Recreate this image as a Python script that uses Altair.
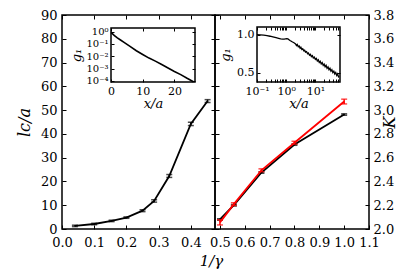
import altair as alt
import pandas as pd

FONT = "DejaVu Serif"
H = 214
W1 = 153
W2 = 154

# ---------------- data ----------------
inv_gamma_left = [0.04, 0.1, 0.154, 0.2, 0.25, 0.286, 0.333, 0.4, 0.452]
lc = [1.3, 2.1, 3.4, 4.8, 7.7, 11.8, 22.3, 44.2, 53.8]
lc_err = [0.3, 0.3, 0.3, 0.3, 0.4, 0.5, 0.6, 0.7, 0.6]

inv_gamma_right = [0.5, 0.556, 0.667, 0.8, 1.0]
K_black = [2.08, 2.20, 2.475, 2.71, 2.963]
K_black_err = [0.006, 0.006, 0.006, 0.006, 0.006]
K_red = [2.056, 2.209, 2.494, 2.726, 3.072]
K_red_err = [0.022, 0.012, 0.012, 0.012, 0.02]

inset1_x = [0, 1, 2, 3, 4, 6, 8, 10, 12, 14, 16, 18, 20, 22, 24, 26]
inset1_g = [0.89, 0.5, 0.316, 0.21, 0.14, 0.063, 0.028, 0.014, 0.0071, 0.004,
            0.0021, 0.0011, 0.00058, 0.00032, 0.00016, 0.000085]

inset2_x = [0.1, 0.13, 0.17, 0.22, 0.28, 0.35, 0.45, 0.55, 0.65, 0.75, 0.85, 0.95,
            1.05, 1.15, 1.25, 1.35, 1.5, 1.65, 1.8, 1.95, 2.1, 2.25, 2.4, 2.6, 2.8,
            3.0, 3.2, 3.45, 3.7, 4.0, 4.3, 4.6, 5.0, 5.4, 5.8, 6.3, 6.8, 7.3, 7.9,
            8.5, 9.2, 10, 10.8, 11.7, 12.6, 13.6, 14.7, 15.9, 17.2, 18.6, 20, 21.6,
            23.3, 25.2, 27.2, 29.4, 31.7, 34.2, 36.9, 39.8, 43, 46.4, 50, 54, 58, 62, 65]
inset2_g = [1.000, 0.998, 0.993, 0.987, 0.979, 0.970, 0.960, 0.951, 0.944, 0.940, 0.941, 0.944,
            0.946, 0.944, 0.934, 0.924, 0.914, 0.904, 0.897, 0.888, 0.879, 0.858, 0.872, 0.842, 0.850,
            0.822, 0.836, 0.806, 0.815, 0.788, 0.797, 0.771, 0.778, 0.750, 0.760, 0.731, 0.742, 0.712, 0.724,
            0.694, 0.706, 0.676, 0.688, 0.656, 0.670, 0.636, 0.652, 0.616, 0.634, 0.598, 0.614, 0.578,
            0.598, 0.560, 0.578, 0.540, 0.560, 0.522, 0.540, 0.503, 0.522, 0.484, 0.504, 0.466, 0.486, 0.450, 0.462]

x1_ticks = [0.0, 0.1, 0.2, 0.3, 0.4]
y1_ticks = [0, 10, 20, 30, 40, 50, 60, 70, 80, 90]
x2_ticks = [0.5, 0.6, 0.7, 0.8, 0.9, 1.0, 1.1]
y2_ticks = [2.0, 2.2, 2.4, 2.6, 2.8, 3.0, 3.2, 3.4, 3.6, 3.8]
inset1_xticks = [0, 10, 20]
inset1_yticks = [0.0001, 0.001, 0.01, 0.1, 1]
inset2_xticks = [0.1, 1, 10]
inset2_xminor = [0.1, 0.2, 0.3, 0.4, 0.5, 0.6, 0.7, 0.8, 0.9, 1, 2, 3, 4, 5, 6, 7, 8, 9,
                 10, 20, 30, 40, 50, 60]
inset2_yticks = [0.5, 1.0]

# inset placement (pixels inside each panel)
I1 = dict(x0=49, x1=133, y0=67, y1=13)
I2 = dict(x0=42, x1=125, y0=67, y1=12)

LBL = dict(labelFont=FONT, labelColor="black", labelFlush=False, labelOverlap=False)
TTL = dict(titleFont=FONT, titleColor="black", titleFontWeight="normal", titleFontStyle="italic")
ISZ = 10


def grid_dash(length, t):
    return [t, length - 2 * t, t, 4 * length]


def hidden_grid_axis(orient, values, length, t=3, offset=0):
    return alt.Axis(orient=orient, values=values, labels=False, ticks=False, domain=False,
                    offset=offset, title=None, grid=True, gridColor="black", gridOpacity=1,
                    gridWidth=1, gridDash=grid_dash(length, t), zindex=1)


IND = dict(x="independent", y="independent")

# ---------------- left panel ----------------
df_l = pd.DataFrame({"x": inv_gamma_left, "y": lc, "err": lc_err})
xs1 = alt.Scale(domain=[0, 0.475], nice=False, zero=False)
ys1 = alt.Scale(domain=[0, 90], nice=False, zero=False)

ax_x1 = alt.Axis(orient="bottom", values=x1_ticks, format=".1f", ticks=False, domain=False,
                 labelFontSize=13, labelPadding=7, grid=True, gridColor="black", gridOpacity=1,
                 gridWidth=1, gridDash=grid_dash(H, 4), title="1/γ", titleFontSize=15,
                 titleX=W1 - 4, titleY=24, titleAlign="center", titleBaseline="top", **LBL, **TTL)
ax_y1 = alt.Axis(orient="left", values=y1_ticks, ticks=False, domain=False, labelFontSize=13,
                 labelPadding=5, grid=True, gridColor="black", gridOpacity=1, gridWidth=1,
                 gridDash=grid_dash(W1, 4), title="lc/a", titleFontSize=16, titlePadding=8,
                 **LBL, **TTL)

base_l = alt.Chart(df_l).transform_calculate(lo="datum.y - datum.err", hi="datum.y + datum.err")
line_l = base_l.mark_line(color="black", strokeWidth=1.8).encode(
    x=alt.X("x:Q", scale=xs1, axis=ax_x1), y=alt.Y("y:Q", scale=ys1, axis=ax_y1))
rule_l = base_l.mark_rule(color="black", strokeWidth=1.5).encode(
    x=alt.X("x:Q", scale=xs1, axis=None), y=alt.Y("lo:Q", scale=ys1, axis=None), y2="hi:Q")
caplo_l = base_l.mark_tick(orient="horizontal", color="black", size=6, thickness=1.5).encode(
    x=alt.X("x:Q", scale=xs1, axis=None), y=alt.Y("lo:Q", scale=ys1, axis=None))
caphi_l = base_l.mark_tick(orient="horizontal", color="black", size=6, thickness=1.5).encode(
    x=alt.X("x:Q", scale=xs1, axis=None), y=alt.Y("hi:Q", scale=ys1, axis=None))
main_l = alt.layer(line_l, rule_l, caplo_l, caphi_l).resolve_axis(**IND)

# inset 1
xsi1 = alt.Scale(domain=[0, 26.5], range=[I1["x0"], I1["x1"]], nice=False, zero=False)
ysi1 = alt.Scale(type="log", domain=[0.00008, 2], range=[I1["y0"], I1["y1"]], nice=False)
frame1 = pd.DataFrame({"x": [0], "x2": [26.5], "y": [0.00008], "y2": [2]})
df_i1 = pd.DataFrame({"x": inset1_x, "g": inset1_g})

ax_i1x = alt.Axis(orient="bottom", values=inset1_xticks, ticks=False, domain=False, grid=False,
                  offset=I1["y0"] - H, labelFontSize=ISZ + 1, labelPadding=3, title="x/a",
                  titleFontSize=13, titlePadding=1, **LBL, **TTL)
ax_i1y = alt.Axis(orient="left", values=inset1_yticks, ticks=False, domain=False,
                  offset=-I1["x0"], labelFontSize=ISZ, labelPadding=3,
                  labelExpr="datum.value > 0.5 ? '10⁰' : datum.value > 0.05 ? '10⁻¹' : datum.value > 0.005 ? '10⁻²' : datum.value > 0.0005 ? '10⁻³' : '10⁻⁴'",
                  grid=True, gridColor="black", gridOpacity=1, gridWidth=1,
                  gridDash=grid_dash(I1["x1"] - I1["x0"], 3), zindex=1,
                  title="g₁", titleFontSize=13, titlePadding=2, **LBL, **TTL)

rect1 = alt.Chart(frame1).mark_rect(fill="white", fillOpacity=0, stroke="black", strokeWidth=1.5).encode(
    x=alt.X("x:Q", scale=xsi1, axis=ax_i1x), x2="x2:Q",
    y=alt.Y("y:Q", scale=ysi1, axis=ax_i1y), y2="y2:Q")
curve1 = alt.Chart(df_i1).mark_line(color="black", strokeWidth=1.6).encode(
    x=alt.X("x:Q", scale=xsi1,
            axis=hidden_grid_axis("top", inset1_xticks, I1["y0"] - I1["y1"], 3, -I1["y1"])),
    y=alt.Y("g:Q", scale=ysi1, axis=None))
inset_l = alt.layer(rect1, curve1).resolve_axis(**IND)

left = alt.layer(main_l, inset_l).resolve_scale(**IND).resolve_axis(**IND).properties(
    width=W1, height=H)

# ---------------- right panel ----------------
df_r = pd.DataFrame({
    "x": inv_gamma_right + inv_gamma_right,
    "y": K_black + K_red,
    "err": K_black_err + K_red_err,
    "s": ["black"] * 5 + ["red"] * 5,
})
xs2 = alt.Scale(domain=[0.48, 1.1], nice=False, zero=False)
ys2 = alt.Scale(domain=[2.0, 3.8], nice=False, zero=False)

ax_x2 = alt.Axis(orient="bottom", values=x2_ticks, format=".1f", ticks=False, domain=False,
                 labelFontSize=13, labelPadding=7, grid=True, gridColor="black", gridOpacity=1,
                 gridWidth=1, gridDash=grid_dash(H, 4), title=None, **LBL)
ax_y2 = alt.Axis(orient="right", values=y2_ticks, format=".1f", ticks=False, domain=False,
                 labelFontSize=13, labelPadding=4, grid=True, gridColor="black", gridOpacity=1,
                 gridWidth=1, gridDash=grid_dash(W2, 4), title="K", titleFontSize=16,
                 titleAngle=270, titlePadding=4, **LBL, **TTL)


def series_layers(name, color, first):
    b = alt.Chart(df_r).transform_filter(alt.datum.s == name).transform_calculate(
        lo="datum.y - datum.err", hi="datum.y + datum.err")
    xa = ax_x2 if first else None
    ya = ax_y2 if first else None
    ln = b.mark_line(color=color, strokeWidth=1.8).encode(
        x=alt.X("x:Q", scale=xs2, axis=xa), y=alt.Y("y:Q", scale=ys2, axis=ya))
    rl = b.mark_rule(color=color, strokeWidth=1.5).encode(
        x=alt.X("x:Q", scale=xs2, axis=None), y=alt.Y("lo:Q", scale=ys2, axis=None), y2="hi:Q")
    c1 = b.mark_tick(orient="horizontal", color=color, size=6, thickness=1.5).encode(
        x=alt.X("x:Q", scale=xs2, axis=None), y=alt.Y("lo:Q", scale=ys2, axis=None))
    c2 = b.mark_tick(orient="horizontal", color=color, size=6, thickness=1.5).encode(
        x=alt.X("x:Q", scale=xs2, axis=None), y=alt.Y("hi:Q", scale=ys2, axis=None))
    return [ln, rl, c1, c2]


main_r = alt.layer(*series_layers("black", "black", True),
                   *series_layers("red", "#ff0000", False)).resolve_axis(**IND)

# inset 2
xsi2 = alt.Scale(type="log", domain=[0.1, 70], range=[I2["x0"], I2["x1"]], nice=False)
ysi2 = alt.Scale(domain=[0.38, 1.1], range=[I2["y0"], I2["y1"]], nice=False, zero=False)
frame2 = pd.DataFrame({"x": [0.1], "x2": [70], "y": [0.38], "y2": [1.1]})
df_i2 = pd.DataFrame({"x": inset2_x, "g": inset2_g})

ax_i2x = alt.Axis(orient="bottom", values=inset2_xticks, ticks=False, domain=False, grid=False,
                  offset=I2["y0"] - H, labelFontSize=ISZ + 1, labelPadding=3,
                  labelExpr="datum.value < 0.5 ? '10⁻¹' : datum.value < 5 ? '10⁰' : '10¹'",
                  title="x/a", titleFontSize=13, titlePadding=1, **LBL, **TTL)
ax_i2y = alt.Axis(orient="left", values=inset2_yticks, format=".1f", ticks=False, domain=False,
                  offset=-I2["x0"], labelFontSize=ISZ + 1, labelPadding=3,
                  grid=True, gridColor="black", gridOpacity=1, gridWidth=1,
                  gridDash=grid_dash(I2["x1"] - I2["x0"], 3), zindex=1,
                  title="g₁", titleFontSize=13, titlePadding=4, **LBL, **TTL)

rect2 = alt.Chart(frame2).mark_rect(fill="white", fillOpacity=0, stroke="black", strokeWidth=1.5).encode(
    x=alt.X("x:Q", scale=xsi2, axis=ax_i2x), x2="x2:Q",
    y=alt.Y("y:Q", scale=ysi2, axis=ax_i2y), y2="y2:Q")
curve2 = alt.Chart(df_i2).mark_line(color="black", strokeWidth=1.3).encode(
    x=alt.X("x:Q", scale=xsi2,
            axis=hidden_grid_axis("top", inset2_xminor, I2["y0"] - I2["y1"], 3, -I2["y1"])),
    y=alt.Y("g:Q", scale=ysi2, axis=None))
inset_r = alt.layer(rect2, curve2).resolve_axis(**IND)

right = alt.layer(main_r, inset_r).resolve_scale(**IND).resolve_axis(**IND).properties(
    width=W2, height=H)

chart = alt.hconcat(left, right, spacing=0, bounds="flush").properties(
    padding={"left": 7, "top": 0, "right": 5, "bottom": 5},
    background="white",
).configure_view(stroke="black", strokeWidth=1.5)

chart.save("out.html", embed_options={"renderer": "svg", "actions": False})
